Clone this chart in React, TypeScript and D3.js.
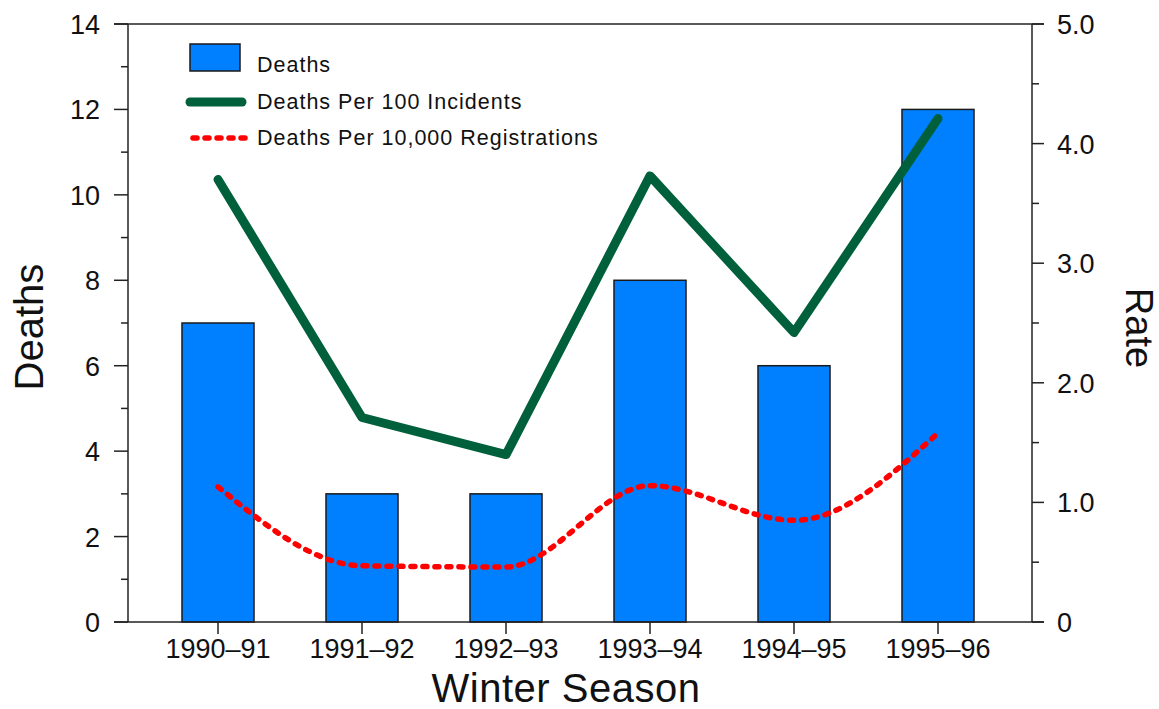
import React from 'react';
import * as d3 from 'd3';

const seasons = ['1990–91', '1991–92', '1992–93', '1993–94', '1994–95', '1995–96'];
const deaths = [7, 3, 3, 8, 6, 12];
const perIncidents = [3.7, 1.71, 1.4, 3.73, 2.42, 4.21];
const perRegistrations = [1.13, 0.47, 0.46, 1.14, 0.85, 1.58];
const leftTicks = [0, 2, 4, 6, 8, 10, 12, 14];
const rightTicks = [0, 1, 2, 3, 4, 5];

const W = 1159;
const H = 709;
const FONT = "'Liberation Sans', Arial, Helvetica, sans-serif";

const App = () => {
  const left = 128;
  const right = 1032;
  const top = 24;
  const bottom = 622;

  const x = d3.scalePoint<string>().domain(seasons).range([218, 938]);
  const yL = d3.scaleLinear().domain([0, 14]).range([bottom, top]);
  const yR = d3.scaleLinear().domain([0, 5]).range([bottom, top]);
  const barW = 72;

  const greenLine = d3
    .line<number>()
    .x((_, i) => x(seasons[i]) as number)
    .y((d) => yR(d));
  const redLine = d3
    .line<number>()
    .x((_, i) => x(seasons[i]) as number)
    .y((d) => yR(d))
    .curve(d3.curveMonotoneX);

  const leftMinor = d3.range(1, 14, 2);
  const rightMinor = d3.range(0.5, 5, 1);

  return (
    <svg
      width={W}
      height={H}
      style={{ position: 'absolute', left: 0, top: 0, background: '#fff' }}
      fontFamily={FONT}
    >
      {/* bars */}
      {deaths.map((d, i) => (
        <rect
          key={seasons[i]}
          x={(x(seasons[i]) as number) - barW / 2}
          y={yL(d)}
          width={barW}
          height={yL(0) - yL(d)}
          fill="#0080ff"
          stroke="#1a1a1a"
          strokeWidth={1.5}
        />
      ))}

      {/* frame */}
      <line x1={114} x2={1044} y1={top} y2={top} stroke="#222" strokeWidth={1.5} />
      <line x1={114} x2={1044} y1={bottom} y2={bottom} stroke="#222" strokeWidth={1.5} />
      <line x1={left} x2={left} y1={top} y2={bottom} stroke="#222" strokeWidth={1.5} />
      <line x1={right} x2={right} y1={top} y2={bottom} stroke="#222" strokeWidth={1.5} />

      {/* left ticks */}
      {leftTicks.map((t) => (
        <g key={'l' + t}>
          <line x1={114} x2={left} y1={yL(t)} y2={yL(t)} stroke="#222" strokeWidth={1.5} />
          <text x={100} y={yL(t) + 10} textAnchor="end" fontSize={27} fill="#111">
            {t}
          </text>
        </g>
      ))}
      {leftMinor.map((t) => (
        <line key={'lm' + t} x1={121} x2={left} y1={yL(t)} y2={yL(t)} stroke="#222" strokeWidth={1.5} />
      ))}

      {/* right ticks */}
      {rightTicks.map((t) => (
        <g key={'r' + t}>
          <line x1={right} x2={1044} y1={yR(t)} y2={yR(t)} stroke="#222" strokeWidth={1.5} />
          <text x={1057} y={yR(t) + 10} textAnchor="start" fontSize={27} fill="#111">
            {t === 0 ? '0' : d3.format('.1f')(t)}
          </text>
        </g>
      ))}
      {rightMinor.map((t) => (
        <line key={'rm' + t} x1={right} x2={1039} y1={yR(t)} y2={yR(t)} stroke="#222" strokeWidth={1.5} />
      ))}

      {/* x ticks */}
      {seasons.map((s) => (
        <g key={'x' + s}>
          <line x1={x(s)} x2={x(s)} y1={bottom} y2={bottom + 12} stroke="#222" strokeWidth={1.5} />
          <text x={x(s)} y={658} textAnchor="middle" fontSize={27} fill="#111">
            {s}
          </text>
        </g>
      ))}

      {/* lines */}
      <path
        d={greenLine(perIncidents) || ''}
        fill="none"
        stroke="#00603c"
        strokeWidth={9}
        strokeLinecap="round"
        strokeLinejoin="round"
      />
      <path
        d={redLine(perRegistrations) || ''}
        fill="none"
        stroke="#ff0000"
        strokeWidth={5.5}
        strokeLinecap="round"
        strokeDasharray="4 8"
      />

      {/* axis titles */}
      <text
        transform="translate(43,327) rotate(-90)"
        textAnchor="middle"
        fontSize={40}
        fill="#111"
      >
        Deaths
      </text>
      <text
        transform="translate(1126,328) rotate(90)"
        textAnchor="middle"
        fontSize={38}
        fill="#111"
      >
        Rate
      </text>
      <text x={566} y={702} textAnchor="middle" fontSize={40} letterSpacing={0.5} fill="#111">
        Winter Season
      </text>

      {/* legend */}
      <rect x={190} y={44} width={50} height={27} fill="#0080ff" stroke="#1a1a1a" strokeWidth={1.5} />
      <text x={257} y={72} fontSize={21.5} letterSpacing={1} fill="#111">
        Deaths
      </text>
      <line x1={190} x2={242} y1={102} y2={102} stroke="#00603c" strokeWidth={9} strokeLinecap="round" />
      <text x={257} y={109} fontSize={21.5} letterSpacing={1} fill="#111">
        Deaths Per 100 Incidents
      </text>
      <line
        x1={193}
        x2={248}
        y1={138}
        y2={138}
        stroke="#ff0000"
        strokeWidth={5.5}
        strokeLinecap="round"
        strokeDasharray="4 8"
      />
      <text x={257} y={145} fontSize={21.5} letterSpacing={1} fill="#111">
        Deaths Per 10,000 Registrations
      </text>
    </svg>
  );
};

export default App;
